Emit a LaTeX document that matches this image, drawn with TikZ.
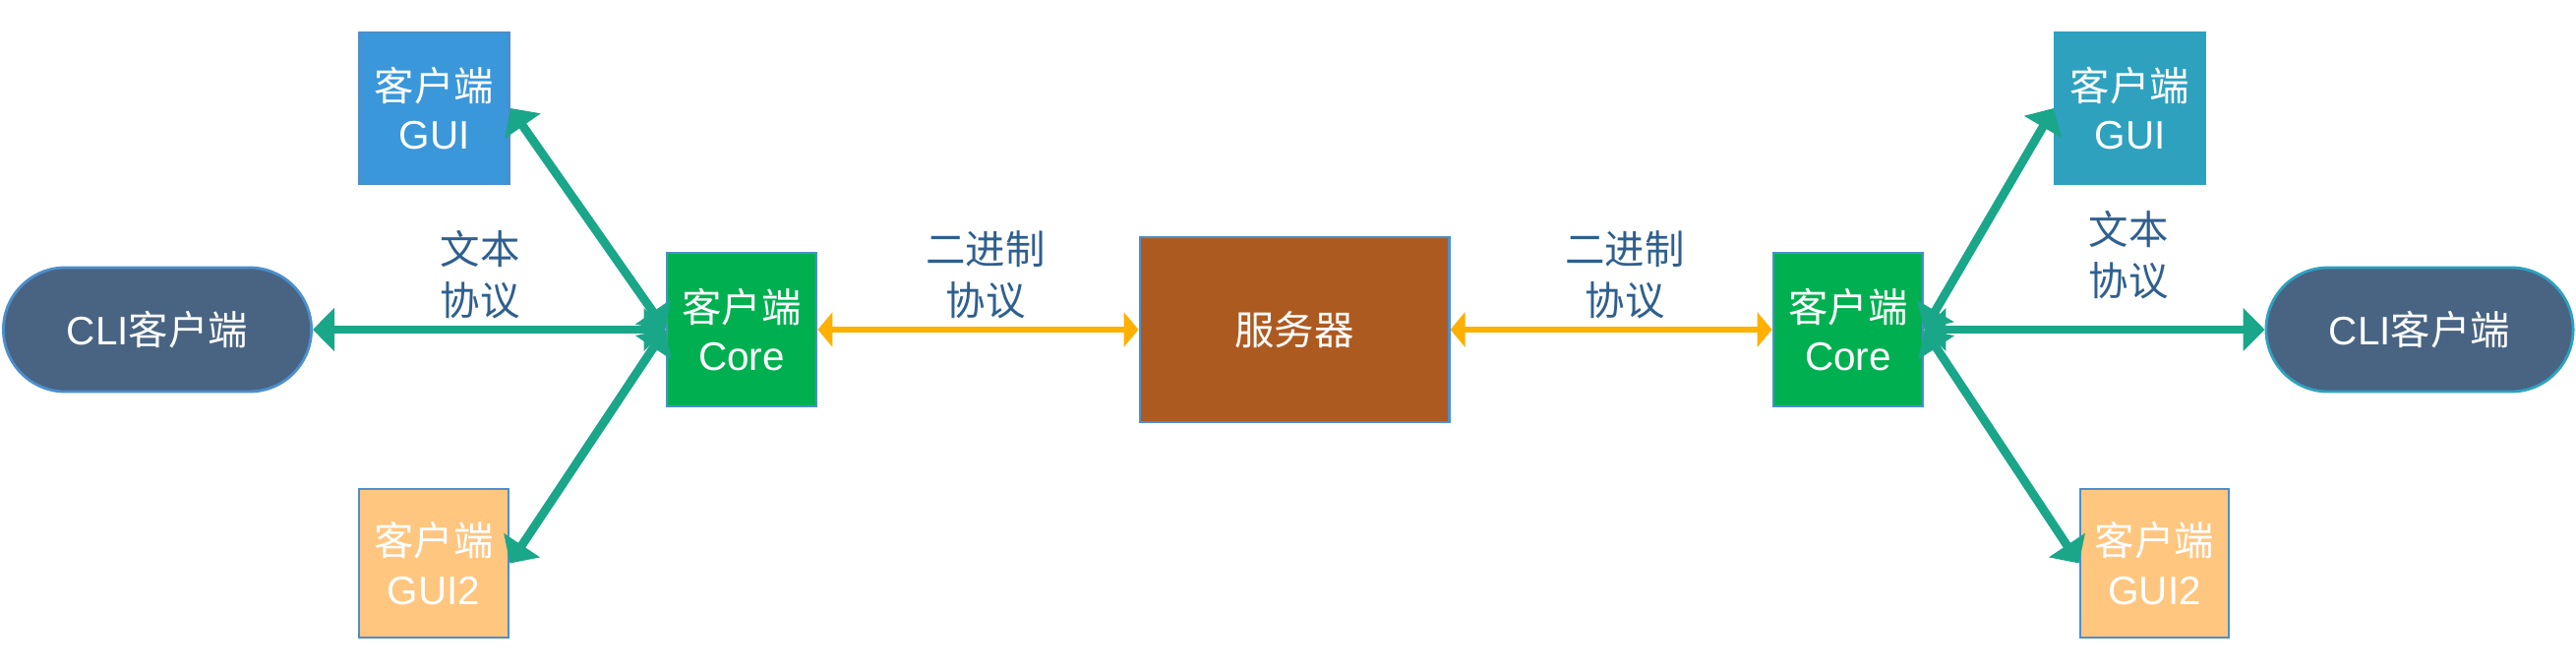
\documentclass[tikz,border=0pt]{standalone}
\usepackage{fontspec}
\setmainfont{Liberation Sans}
\newfontfamily\cjk{Noto Sans CJK SC}
\usepackage{tikz}
\usetikzlibrary{arrows.meta}
\definecolor{guiblue}{HTML}{3A97DA}
\definecolor{guiteal}{HTML}{2EA1BF}
\definecolor{coregreen}{HTML}{00B050}
\definecolor{guipeach}{HTML}{FFC680}
\definecolor{cligray}{HTML}{486482}
\definecolor{serverbrown}{HTML}{AD5A21}
\definecolor{boxline}{HTML}{4C8FCC}
\definecolor{linkgreen}{HTML}{1AA689}
\definecolor{binorange}{HTML}{FFB000}
\definecolor{tagblue}{HTML}{2F5F8F}
\tikzset{
  font={\fontsize{11.5pt}{14.2pt}\selectfont}}

\begin{document}
\begin{tikzpicture}[x=0.01cm, y=0.01cm,
  box/.style={draw=boxline, line width=0.8pt, text=white, inner sep=0pt, align=center,
    minimum width=1.52cm, minimum height=1.54cm},
  cli/.style={box, rounded corners=0.63cm, minimum width=3.13cm, minimum height=1.26cm},
  tag/.style={text=tagblue, align=center, font={\cjk\fontsize{11.5pt}{14.8pt}\selectfont}},
  link/.style={draw=linkgreen, line width=2.5pt,
    {Triangle[length=0.22cm,width=0.43cm]}-{Triangle[length=0.22cm,width=0.43cm]}},
  bin/.style={draw=binorange, line width=1.8pt,
    {Triangle[length=0.15cm,width=0.35cm]}-{Triangle[length=0.15cm,width=0.35cm]}}]
\useasboundingbox (0,0) rectangle (2619,-682);
% left client
\node [box, fill=guiblue] (guiL) at (441.5,-110) {{\cjk 客户端}\\GUI};
\node [cli, fill=cligray] (cliL) at (160,-335) {CLI{\cjk 客户端}};
\node [box, fill=coregreen, minimum height=1.56cm] (coreL) at (754,-335) {{\cjk 客户端}\\Core};
\node [box, fill=guipeach, minimum height=1.51cm] (gui2L) at (441,-572.5) {{\cjk 客户端}\\GUI2};
\node [tag] (txtL) at (488,-279) {文本\\协议};
% server
\node [box, fill=serverbrown, minimum width=3.14cm, minimum height=1.88cm] (server) at (1316,-335) {\cjk 服务器};
\node [tag] (binL) at (1002,-279) {二进制\\协议};
\node [tag] (binR) at (1652,-279) {二进制\\协议};
% right client
\node [box, fill=coregreen, minimum height=1.56cm] (coreR) at (1879,-335) {{\cjk 客户端}\\Core};
\node [box, fill=guiteal, draw=guiteal] (guiR) at (2165.5,-110) {{\cjk 客户端}\\GUI};
\node [cli, fill=cligray, draw=guiteal, minimum width=3.12cm] (cliR) at (2460,-335) {CLI{\cjk 客户端}};
\node [box, fill=guipeach, minimum width=1.51cm, minimum height=1.51cm] (gui2R) at (2190.5,-572.5) {{\cjk 客户端}\\GUI2};
\node [tag] (txtR) at (2164,-259) {文本\\协议};
% links
\draw [link] (coreL.west) -- (guiL.east);
\draw [link] (coreL.west) -- (cliL.east);
\draw [link] (coreL.west) -- (gui2L.east);
\draw [bin] (coreL.east) -- (server.west);
\draw [bin] (server.east) -- (coreR.west);
\draw [link] (coreR.east) -- (guiR.west);
\draw [link] (coreR.east) -- (cliR.west);
\draw [link] (coreR.east) -- (gui2R.west);
\end{tikzpicture}
\end{document}
